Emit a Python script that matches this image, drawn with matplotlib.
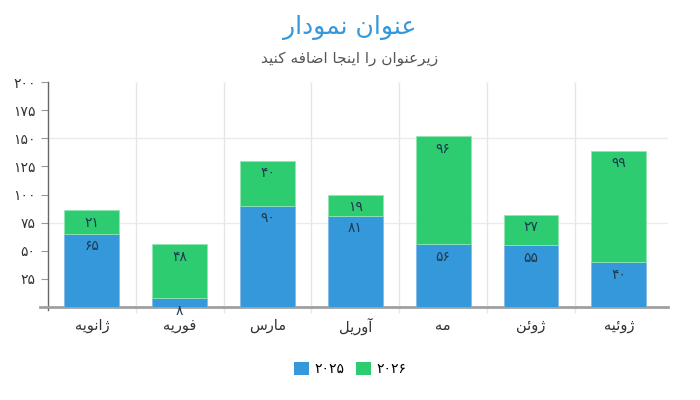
import numpy as np
import matplotlib
matplotlib.use('Agg')
import matplotlib.pyplot as plt
from matplotlib.patches import Patch

plt.rcParams['font.family'] = ['DejaVu Sans']

# data
months = ['ژانویه', 'فوریه', 'مارس', 'آوریل', 'مه', 'ژوئن', 'ژوئیه']
sales_2025 = [65, 8, 90, 81, 56, 55, 40]
sales_2026 = [21, 48, 40, 19, 96, 27, 99]
series_names = ['2025', '2026']
title = 'عنوان نمودار'
subtitle = 'زیرعنوان را اینجا اضافه کنید'
yticks = [0, 25, 50, 75, 100, 125, 150, 175, 200]

blue = '#3498db'
green = '#2ecc71'

# matplotlib has no arabic shaping, so pick the presentation forms by hand
FORMS = {
    'ا': ('\uFE8D', '\uFE8E', None, None),
    'آ': ('\uFE81', '\uFE82', None, None),
    'ب': ('\uFE8F', '\uFE90', '\uFE91', '\uFE92'),
    'ج': ('\uFE9D', '\uFE9E', '\uFE9F', '\uFEA0'),
    'د': ('\uFEA9', '\uFEAA', None, None),
    'ر': ('\uFEAD', '\uFEAE', None, None),
    'ز': ('\uFEAF', '\uFEB0', None, None),
    'ژ': ('\uFB8A', '\uFB8B', None, None),
    'س': ('\uFEB1', '\uFEB2', '\uFEB3', '\uFEB4'),
    'ض': ('\uFEBD', '\uFEBE', '\uFEBF', '\uFEC0'),
    'ع': ('\uFEC9', '\uFECA', '\uFECB', '\uFECC'),
    'ف': ('\uFED1', '\uFED2', '\uFED3', '\uFED4'),
    'ک': ('\uFB8E', '\uFB8F', '\uFB90', '\uFB91'),
    'ل': ('\uFEDD', '\uFEDE', '\uFEDF', '\uFEE0'),
    'م': ('\uFEE1', '\uFEE2', '\uFEE3', '\uFEE4'),
    'ن': ('\uFEE5', '\uFEE6', '\uFEE7', '\uFEE8'),
    'ه': ('\uFEE9', '\uFEEA', '\uFEEB', '\uFEEC'),
    'و': ('\uFEED', '\uFEEE', None, None),
    'ی': ('\uFBFC', '\uFBFD', '\uFBFE', '\uFBFF'),
    'ئ': ('\uFE89', '\uFE8A', '\uFE8B', '\uFE8C'),
}


def shape(s):
    out = []
    for i, ch in enumerate(s):
        if ch not in FORMS:
            out.append(ch)
            continue
        prev = s[i - 1] if i > 0 else ''
        nxt = s[i + 1] if i + 1 < len(s) else ''
        joins_prev = prev in FORMS and FORMS[prev][2] is not None
        joins_next = FORMS[ch][2] is not None and nxt in FORMS
        iso, fin, ini, med = FORMS[ch]
        if joins_prev and joins_next:
            out.append(med)
        elif joins_prev:
            out.append(fin)
        elif joins_next:
            out.append(ini)
        else:
            out.append(iso)
    return ''.join(out)[::-1]


def fa_num(n):
    return str(n).translate(str.maketrans('0123456789', '۰۱۲۳۴۵۶۷۸۹'))


fig = plt.figure(figsize=(7, 4), dpi=100)
ax = fig.add_axes([48 / 700, 93 / 400, 620 / 700, 225 / 400])

x = np.arange(len(months))
w = 0.625
b1 = ax.bar(x, sales_2025, w, color=blue, edgecolor='#7fbbe8', linewidth=0.6, zorder=3)
b2 = ax.bar(x, sales_2026, w, bottom=sales_2025, color=green, edgecolor='#8fe6b3',
            linewidth=0.6, zorder=3)

# value labels sit just under the top of each segment (the oblique face has no persian digits)
for bars, vals, bottoms in [(b1, sales_2025, [0] * len(x)), (b2, sales_2026, sales_2025)]:
    for rect, v, b in zip(bars, vals, bottoms):
        ax.annotate(fa_num(v), (rect.get_x() + rect.get_width() / 2, b + v),
                    xytext=(0, -4), textcoords='offset points', ha='center', va='top',
                    fontsize=10, color='#1f3a4d', zorder=5,
                    annotation_clip=False)

ax.set_xlim(-0.5, 6.56)
ax.set_ylim(0, 200)
ax.set_yticks(yticks)
ax.set_yticklabels(['' if t == 0 else fa_num(t) for t in yticks], fontsize=10, color='#333333')
ax.set_xticks(x)
ax.set_xticklabels([shape(m) for m in months], fontsize=10.5, color='#333333')
ax.tick_params(axis='x', length=0, pad=8)
ax.tick_params(axis='y', length=5, color='#999999', pad=4)

for yv in [75, 150]:
    ax.axhline(yv, color='#ebebeb', lw=1, zorder=1)
ax.vlines(np.arange(0.5, 6, 1), -5, 200, color='#e6e6e6', lw=1, zorder=1, clip_on=False)

for s in ['top', 'right']:
    ax.spines[s].set_visible(False)
ax.spines['left'].set_color('#666666')
ax.spines['left'].set_linewidth(1)
ax.spines['left'].set_bounds(-3, 200)
ax.spines['bottom'].set_color('#a0a0a0')
ax.spines['bottom'].set_linewidth(2)
ax.spines['bottom'].set_bounds(-0.59, 6.56)

fig.text(0.5, 1 - 27 / 400, shape(title), ha='center', va='center', fontsize=18, color=blue)
fig.text(0.5, 1 - 58 / 400, shape(subtitle), ha='center', va='center', fontsize=11,
         color='#555555')

handles = [Patch(facecolor=blue), Patch(facecolor=green)]
fig.legend(handles, [fa_num(n) for n in series_names], loc='center', ncol=2,
           bbox_to_anchor=(0.5, 1 - 369 / 400), frameon=False, fontsize=10,
           handlelength=1.1, handleheight=1.1, handletextpad=0.4, columnspacing=0.8)

fig.savefig('out.png', dpi=100)
